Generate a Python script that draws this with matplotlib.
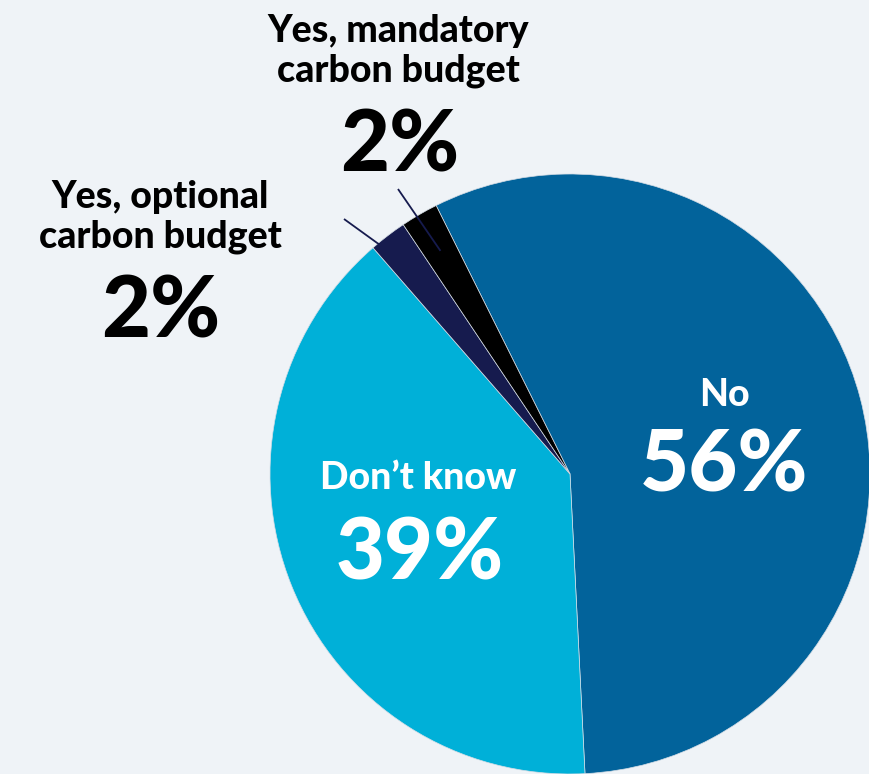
import numpy as np
import matplotlib

matplotlib.use("Agg")
import matplotlib.pyplot as plt

labels = ["No", "Don\u2019t know", "Yes, optional\ncarbon budget", "Yes, mandatory\ncarbon budget"]
values = [56, 39, 2, 2]
colors = ["#02639b", "#00b0d8", "#161b4e", "#000000"]

BG = "#eff3f7"
W, H = 869, 774
CX, CY, R = 570, H - 474, 300

plt.rcParams["font.family"] = ["Lato", "DejaVu Sans"]

fig = plt.figure(figsize=(W / 100, H / 100), dpi=100, facecolor=BG)
ax = fig.add_axes([0, 0, 1, 1])
ax.set_facecolor(BG)

wedges, _ = ax.pie(
    values,
    colors=colors,
    startangle=116.5,
    counterclock=False,
    center=(CX, CY),
    radius=R,
    wedgeprops=dict(linewidth=0.5, edgecolor="#d5dde6"),
)
ax.set_xlim(0, W)
ax.set_ylim(0, H)
ax.axis("off")


def px(y):
    # text positions are given from the top edge
    return H - y


big = dict(fontsize=61, fontweight="black", ha="center", va="baseline")
small = dict(fontsize=27, fontweight="black", ha="center", va="baseline", linespacing=1.2)

# labels inside the two large slices
ax.text(724, px(406), labels[0], color="white", **small)
ax.text(724, px(492), f"{values[0]}%", color="white", **big)
ax.text(418, px(489), labels[1], color="white", **small)
ax.text(420, px(580), f"{values[1]}%", color="white", **big)

# outside labels for the two thin slices, with leader lines
outside = [
    (2, (160, 248), (161, 337), (344, 219)),
    (3, (398, 82), (400, 172), (398, 189)),
]
for i, (lx, ly), (nx, ny), (ex, ey) in outside:
    ax.text(lx, px(ly), labels[i], color="black", **small)
    ax.text(nx, px(ny), f"{values[i]}%", color="black", **big)
    w = wedges[i]
    mid = np.deg2rad((w.theta1 + w.theta2) / 2)
    ax.plot([CX + 0.86 * R * np.cos(mid), ex], [CY + 0.86 * R * np.sin(mid), px(ey)],
            color="#161b4e", lw=1.3, solid_capstyle="butt")

fig.savefig("out.png", dpi=100, facecolor=BG)
